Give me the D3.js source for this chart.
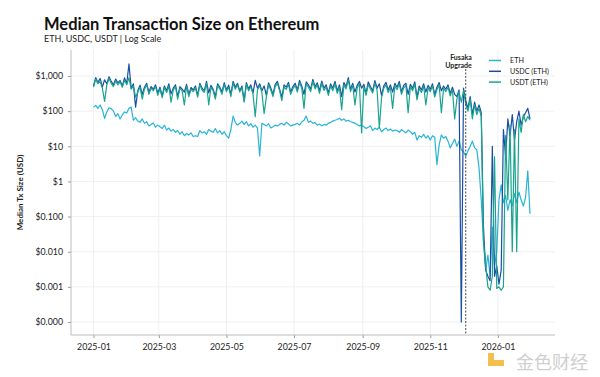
<!DOCTYPE html>
<html><head><meta charset="utf-8">
<script src="https://cdn.jsdelivr.net/npm/d3@7"></script>
<style>
html,body{margin:0;padding:0;background:#fff;}
svg{display:block;font-family:Lato,"Open Sans",sans-serif;}
</style></head>
<body><svg id="c" width="600" height="377"></svg>
<script>
// ---- data (2-day sampling, starting 2025-01-01) ----
const startDate = "2025-01-01";
const seriesNames = ["ETH", "USDC (ETH)", "USDT (ETH)"];
const ethValues = [
 130,145,120,150,110,62,95,125,118,100,70,85,60,78,95,88,
 120,130,55,65,52,48,60,45,50,38,42,46,35,40,
 36,32,40,29,33,27,30,25,28,22,26,20,23,21,24,19,
 20,19,28,24,26,22,30,27,25,32,24,28,22,26,20,
 17,30,72,48,40,45,52,42,50,38,44,35,40,33,5.3,
 45,42,38,44,33,36,40,38,42,45,40,48,43,38,40,
 42,45,40,50,55,72,48,52,45,47,40,43,38,42,40,45,
 48,52,55,58,63,55,60,52,55,50,48,45,42,38,40,
 36,32,35,38,28,33,30,35,26,30,33,28,31,27,29,
 28,25,30,27,24,29,26,22,25,15,20,18,22,17,20,15,
 20,18,3,11,21,17,19,14,9,12,16,10,14,8,7,
 5.2,7.4,10,14,9,8,2.4,0.3,0.02,0.003,0.008,0.002,0.05,0.004,0.01,0.3,
 0.8,0.25,0.4,0.15,0.3,0.2,0.45,0.25,0.5,0.3,0.2,0.35,2.0,0.12
];
const usdcValues = [
 520,900,650,850,480,780,600,950,700,560,820,640,750,520,880,610,
 2200,450,600,130,380,550,300,480,620,350,500,420,560,330,
 480,270,520,380,600,310,450,560,260,500,420,350,580,300,470,400,
 520,280,620,450,380,700,330,540,420,260,600,480,350,650,400,
 550,300,700,480,620,380,520,200,650,430,560,330,750,450,600,
 380,520,280,640,460,300,580,700,420,250,560,480,660,350,500,
 620,400,750,520,300,680,560,420,800,500,640,380,720,450,560,330,
 600,450,700,380,560,260,650,500,900,420,620,350,540,700,450,
 580,320,680,500,380,740,450,600,280,520,660,400,560,350,620,
 480,700,360,540,620,300,580,450,680,250,520,400,600,350,540,420,
 600,300,480,650,380,520,420,560,320,480,300,260,400,0.0001,450,
 200,120,260,80,180,100,150,90,0.05,0.003,0.002,0.0015,10,0.002,0.004,0.0012,
 0.003,30,5,60,20,80,15,50,100,40,70,90,120,60
];
const usdtValues = [
 480,820,600,700,450,190,550,850,620,500,720,560,680,480,760,560,
 900,420,520,250,350,480,220,430,560,300,450,380,500,280,
 430,240,470,340,520,180,400,500,220,450,380,150,520,260,420,360,
 460,250,560,400,340,620,150,480,380,220,540,430,300,580,360,
 480,260,620,420,560,350,460,180,580,380,500,300,70,400,540,
 340,85,250,560,400,260,500,620,380,200,480,420,580,300,440,
 540,350,650,450,120,600,480,360,700,430,560,320,620,390,480,280,
 520,380,600,320,480,110,560,430,780,360,540,150,460,600,24,
 500,280,580,420,330,640,390,33,240,450,560,340,480,120,530,
 410,600,300,460,540,90,500,380,580,210,440,340,520,150,460,360,
 520,250,410,560,90,450,360,480,270,410,60,220,350,180,380,
 160,100,220,60,150,80,120,70,0.02,0.004,0.001,0.0008,0.002,5,0.0009,0.001,
 0.0008,0.001,20,0.3,40,0.01,30,0.01,60,25,80,50,70,55
];
const yTickValues = [1e-4, 1e-3, 1e-2, 1e-1, 1, 10, 100, 1000];
const yTickLabels = ["$0.000","$0.001","$0.010","$0.100","$1","$10","$100","$1,000"];
const eventDate = "2025-12-03";
const eventLabel = ["Fusaka", "Upgrade"];
const colors = ["#27b4d8", "#1b4ea3", "#1aa48f"];

// ---- layout ----
const svg = d3.select("#c");
const plot = {left: 71, right: 555, top: 50, bottom: 335};
const parse = d3.utcParse("%Y-%m-%d");
const t0 = parse(startDate);
const mk = vals => vals.map((v, i) => ({date: d3.utcDay.offset(t0, 2 * i), value: v}));
const series = [ethValues, usdcValues, usdtValues].map(mk);
const lastDate = series[0][series[0].length - 1].date;

const x = d3.scaleUtc().domain([t0, lastDate]).range([93.5, 530]);
const y = d3.scaleLog().domain([1e-4, 1e3]).range([322, 76]);

const xTicks = d3.utcMonth.every(2).range(t0, d3.utcDay.offset(lastDate, 1));

// grid
const g = svg.append("g");
g.selectAll(".vg").data(xTicks).join("line")
  .attr("x1", d => x(d)).attr("x2", d => x(d))
  .attr("y1", plot.top).attr("y2", plot.bottom)
  .attr("stroke", "#ececec").attr("stroke-width", 0.8);
g.selectAll(".hg").data(yTickValues).join("line")
  .attr("x1", plot.left).attr("x2", plot.right)
  .attr("y1", d => y(d)).attr("y2", d => y(d))
  .attr("stroke", "#ececec").attr("stroke-width", 0.8);

// axes
const xAxis = d3.axisBottom(x).tickValues(xTicks).tickFormat(d3.utcFormat("%Y-%m")).tickSize(3).tickPadding(6);
const xg = svg.append("g").attr("transform", `translate(0,${plot.bottom})`).call(xAxis);
xg.select(".domain").remove();
xg.append("line").attr("x1", plot.left).attr("x2", plot.right).attr("stroke", "#bdbdbd").attr("stroke-width", 1);
xg.selectAll(".tick line").attr("stroke", "#999");
xg.selectAll("text").attr("font-size", 8.8).attr("fill", "#222").attr("font-family", "Lato, sans-serif");

const yAxis = d3.axisLeft(y).tickValues(yTickValues).tickFormat((d, i) => yTickLabels[i]).tickSize(3).tickPadding(5);
const yg = svg.append("g").attr("transform", `translate(${plot.left},0)`).call(yAxis);
yg.select(".domain").remove();
yg.append("line").attr("y1", plot.top).attr("y2", plot.bottom).attr("stroke", "#bdbdbd").attr("stroke-width", 1);
yg.selectAll(".tick line").attr("stroke", "#999");
yg.selectAll("text").attr("font-size", 8.8).attr("fill", "#222").attr("font-family", "Lato, sans-serif");

// lines
const line = d3.line().x(d => x(d.date)).y(d => y(d.value));
series.forEach((s, i) => {
  svg.append("path").datum(s).attr("d", line)
    .attr("fill", "none").attr("stroke", colors[i]).attr("stroke-width", 1.2)
    .attr("stroke-linejoin", "round");
});

// event line
const ex = x(parse(eventDate));
svg.append("line").attr("x1", ex).attr("x2", ex).attr("y1", 69).attr("y2", plot.bottom)
  .attr("stroke", "#444").attr("stroke-width", 1).attr("stroke-dasharray", "2,1.5");
eventLabel.forEach((t, i) => {
  svg.append("text").attr("x", ex + 6).attr("y", 59.5 + i * 8.5).attr("text-anchor", "end")
    .attr("font-size", 7).attr("font-weight", "bold").attr("fill", "#222").text(t);
});

// legend
seriesNames.forEach((n, i) => {
  const ly = 60.5 + i * 10.8;
  svg.append("line").attr("x1", 489).attr("x2", 501).attr("y1", ly).attr("y2", ly)
    .attr("stroke", colors[i]).attr("stroke-width", 1.5);
  svg.append("text").attr("x", 510).attr("y", ly + 2.5).attr("font-size", 7.2).attr("fill", "#222").text(n);
});

// titles
svg.append("text").attr("x", 44).attr("y", 30).attr("font-size", 16.5).attr("font-weight", "bold")
  .attr("fill", "#111").text("Median Transaction Size on Ethereum");
svg.append("text").attr("x", 44).attr("y", 42).attr("font-size", 9).attr("fill", "#222")
  .text("ETH, USDC, USDT | Log Scale");
svg.append("text").attr("transform", `translate(23,${(plot.top + plot.bottom) / 2}) rotate(-90)`)
  .attr("text-anchor", "middle").attr("font-size", 8).attr("font-weight", "bold").attr("fill", "#222")
  .text("Median Tx Size (USD)");

// watermark
const wm = svg.append("g").attr("opacity", 0.85);
wm.append("rect").attr("x", 488).attr("y", 353).attr("width", 6).attr("height", 13).attr("fill", "#f2b632");
wm.append("rect").attr("x", 494).attr("y", 360).attr("width", 10).attr("height", 6).attr("fill", "#f2b632");
wm.append("text").attr("x", 516).attr("y", 369).attr("font-size", 18).attr("fill", "#c8c8c8")
  .attr("font-family", "'Noto Sans CJK SC', sans-serif").text("金色财经");
</script></body></html>
